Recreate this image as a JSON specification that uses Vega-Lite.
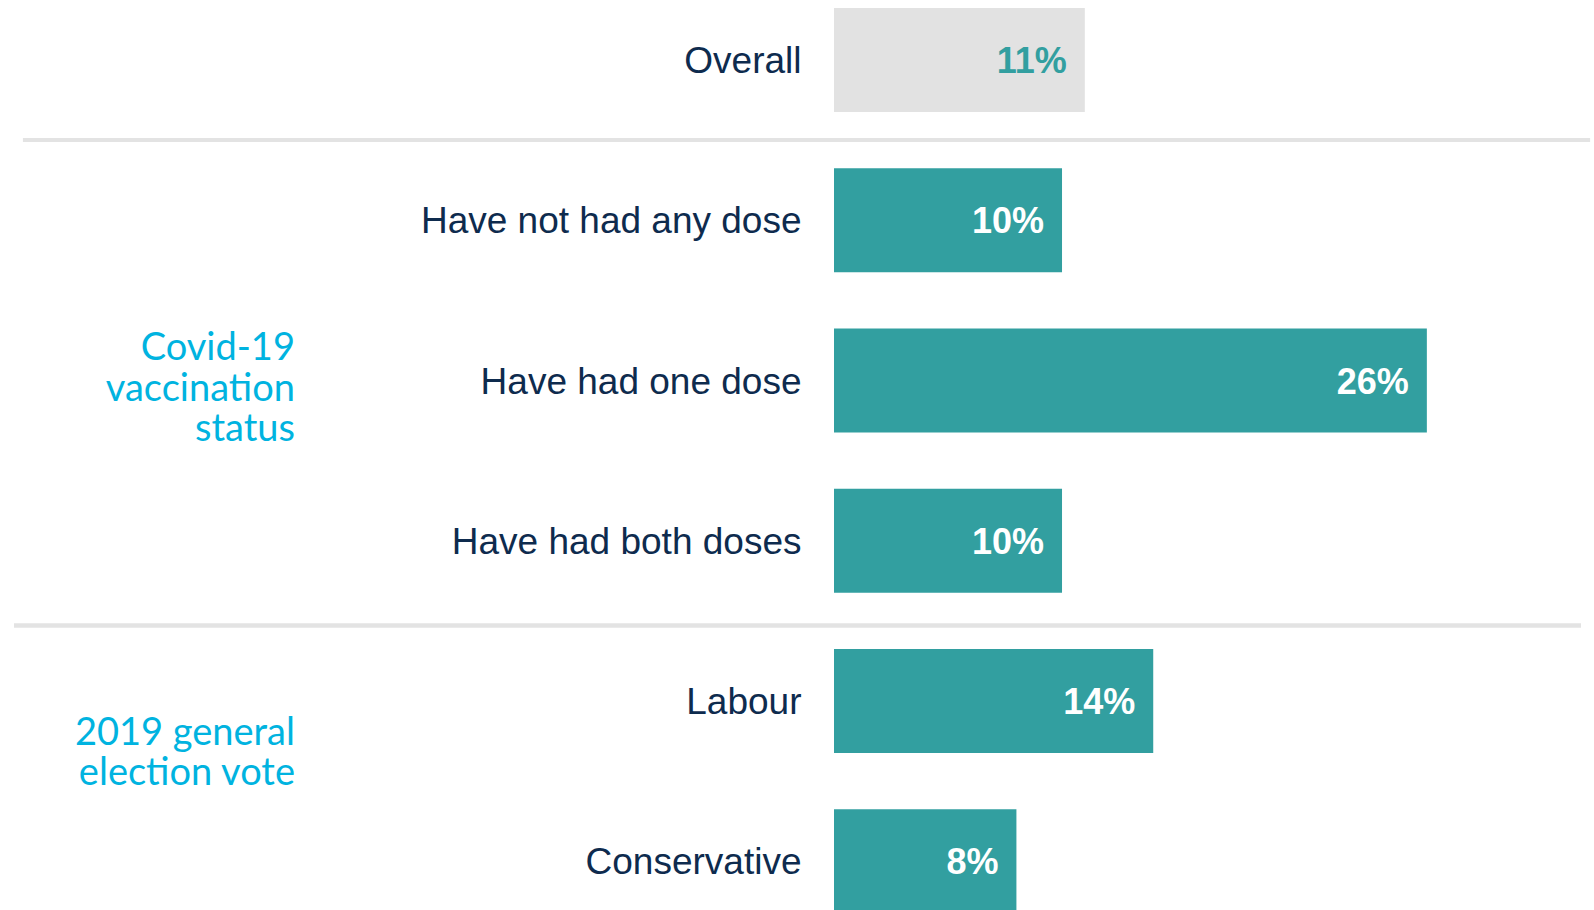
{
  "$schema": "https://vega.github.io/schema/vega-lite/v6.json",
  "autosize": "none",
  "width": 760,
  "height": 910,
  "padding": {"left": 834, "top": 0, "right": 0, "bottom": 0},
  "background": "white",
  "config": {"view": {"stroke": null}},
  "data": {"values": [
    {"label": "Overall", "value": 11, "kind": "overall"},
    {"label": "Have not had any dose", "value": 10, "kind": "sub"},
    {"label": "Have had one dose", "value": 26, "kind": "sub"},
    {"label": "Have had both doses", "value": 10, "kind": "sub"},
    {"label": "Labour", "value": 14, "kind": "sub"},
    {"label": "Conservative", "value": 8, "kind": "sub"}
  ]},
  "layer": [
    {
      "mark": {"type": "bar"},
      "encoding": {
        "y": {"field": "label", "type": "nominal", "sort": null,
          "scale": {"domain": ["Overall", "Have not had any dose", "Have had one dose", "Have had both doses", "Labour", "Conservative"],
            "range": [8, 913.3], "paddingInner": 0.351, "paddingOuter": 0},
          "axis": {"title": null, "domain": false, "ticks": false, "labelPadding": 33, "labelOffset": 2,
            "labelFont": "Liberation Sans", "labelFontSize": 37, "labelColor": "#0E2B4E", "labelLimit": 800}},
        "x": {"field": "value", "type": "quantitative", "scale": {"domain": [0, 33.33], "nice": false}, "axis": null},
        "color": {"field": "kind", "type": "nominal", "scale": {"domain": ["overall", "sub"], "range": ["#E2E2E2", "#329FA0"]}, "legend": null}
      }
    },
    {
      "transform": [{"calculate": "datum.value + '%'", "as": "pct"}],
      "mark": {"type": "text", "align": "right", "baseline": "middle", "dx": -18, "dy": 2, "font": "Liberation Sans", "fontSize": 36, "fontWeight": "bold"},
      "encoding": {
        "y": {"field": "label", "type": "nominal", "sort": null},
        "x": {"field": "value", "type": "quantitative"},
        "text": {"field": "pct", "type": "nominal"},
        "color": {"condition": {"test": "datum.kind === 'overall'", "value": "#329FA0"}, "value": "#FFFFFF"}
      }
    },
    {
      "data": {"values": [{"group": "Covid-19\nvaccination\nstatus", "anchor": "Have had one dose"}]},
      "mark": {"type": "text", "align": "right", "baseline": "middle", "lineBreak": "\n", "lineHeight": 40.6, "dy": -31.6, "font": "Lato", "fontSize": 38, "color": "#00B3E0"},
      "encoding": {
        "y": {"field": "anchor", "type": "nominal", "sort": null},
        "x": {"datum": -23.64},
        "text": {"field": "group"}
      }
    },
    {
      "data": {"values": [{"group": "2019 general\nelection vote", "anchor": "Labour"}]},
      "mark": {"type": "text", "align": "right", "baseline": "middle", "lineBreak": "\n", "lineHeight": 40.6, "dy": 32.7, "font": "Lato", "fontSize": 38, "color": "#00B3E0"},
      "encoding": {
        "y": {"field": "anchor", "type": "nominal", "sort": null},
        "x": {"datum": -23.64},
        "text": {"field": "group"}
      }
    },
    {
      "data": {"values": [{"before": "Have not had any dose"}]},
      "mark": {"type": "rule", "color": "#E3E3E3", "strokeWidth": 4, "yOffset": -28.3},
      "encoding": {
        "y": {"field": "before", "type": "nominal", "bandPosition": 0},
        "x": {"datum": -35.57},
        "x2": {"datum": 33.16}
      }
    },
    {
      "data": {"values": [{"before": "Labour"}]},
      "mark": {"type": "rule", "color": "#E3E3E3", "strokeWidth": 4.5, "yOffset": -23.6},
      "encoding": {
        "y": {"field": "before", "type": "nominal", "bandPosition": 0},
        "x": {"datum": -35.96},
        "x2": {"datum": 32.76}
      }
    }
  ]
}
